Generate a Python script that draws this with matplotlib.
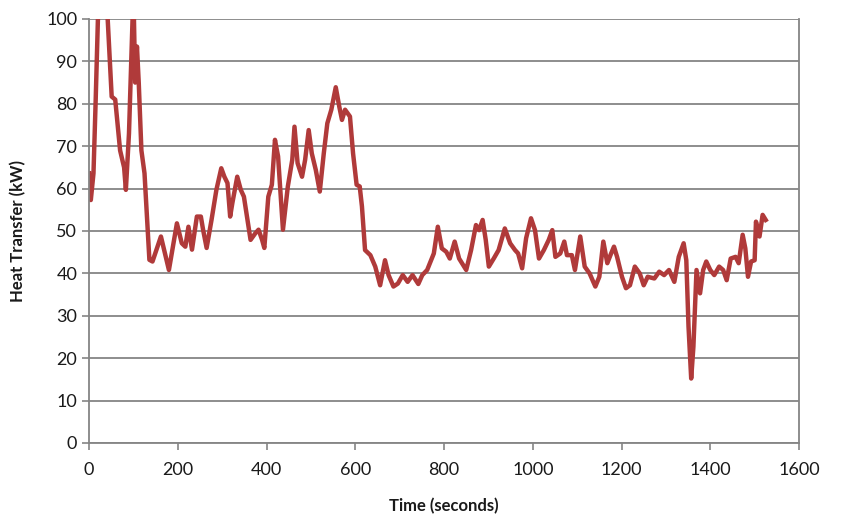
import numpy as np
from matplotlib import pyplot as plt

# heat transfer trace (time in s, power in kW)
time_s = [0, 4, 10, 15, 20, 30, 42, 51, 59, 70, 79, 83, 90, 98, 101, 104, 108, 112,
          118, 125, 136, 143, 152, 162, 171, 180, 189, 198, 209, 217, 224, 232, 243,
          252, 257, 265, 276, 287, 298, 305, 312, 318, 323, 334, 342, 349, 364, 375,
          382, 390, 395, 404, 412, 419, 426, 437, 448, 458, 463, 470, 480, 487, 495,
          502, 511, 520, 529, 537, 546, 556, 564, 570, 577, 588, 595, 603, 610, 615,
          622, 634, 645, 656, 667, 675, 686, 696, 707, 718, 729, 742, 751, 762, 777,
          786, 795, 805, 813, 824, 834, 850, 861, 872, 879, 887, 894, 901, 912, 923,
          937, 949, 960, 967, 976, 985, 996, 1005, 1014, 1025, 1036, 1044, 1051, 1062,
          1071, 1077, 1088, 1095, 1107, 1117, 1128, 1141, 1150, 1159, 1168, 1175, 1183,
          1190, 1201, 1210, 1219, 1230, 1241, 1250, 1259, 1274, 1285, 1296, 1307, 1319,
          1329, 1340, 1346, 1351, 1357, 1362, 1369, 1377, 1384, 1391, 1400, 1409, 1420,
          1429, 1437, 1446, 1457, 1464, 1473, 1479, 1485, 1492, 1500, 1503, 1511, 1518,
          1525]
heat_kw = [63.6, 57.3, 63.6, 81, 100, 112, 100, 81.7, 81, 69, 65, 59.7, 73, 99.8, 101,
           85, 93.5, 85, 69, 63.6, 43.2, 42.8, 45.6, 48.7, 44.8, 40.8, 46.3, 51.8, 47.1,
           46.3, 51, 45.6, 53.4, 53.4, 50.3, 46, 52.6, 59.7, 64.8, 62.8, 61.3, 53.4, 56.6,
           62.8, 59.7, 58.1, 47.9, 49.5, 50.3, 47.9, 46, 58.1, 60.9, 71.5, 67.6, 50.3,
           60.5, 66.8, 74.6, 66, 62.8, 66.8, 73.8, 68.3, 64.4, 59.3, 68.3, 75.4, 78.6,
           83.9, 79.3, 76.2, 78.6, 77, 68.3, 60.9, 60.5, 55.8, 45.5, 44.3, 41.6, 37.2,
           43.1, 39.6, 36.9, 37.6, 39.6, 38, 39.6, 37.5, 39.6, 40.8, 44.7, 51, 45.9, 45.1,
           43.5, 47.5, 43.5, 40.8, 45.5, 51.4, 50.2, 52.6, 47.9, 41.6, 43.5, 45.5, 50.6,
           47.1, 45.5, 44.7, 41.2, 48.3, 53, 50.2, 43.5, 45.5, 47.9, 50.2, 43.9, 44.7,
           47.5, 44.3, 44.3, 40.8, 48.7, 41.6, 40, 36.9, 39.2, 47.5, 42.4, 44.3, 46.3,
           43.9, 39.2, 36.5, 37.2, 41.6, 40, 37.2, 39.2, 38.8, 40.4, 39.6, 40.8, 38,
           43.9, 47.1, 43.1, 27.4, 15.2, 22.7, 40.8, 35.3, 40.8, 42.8, 40.8, 39.6, 41.6,
           40.8, 38.4, 43.5, 43.9, 42.4, 49.1, 45.9, 39.2, 42.8, 43.1, 52.2, 48.7, 53.8,
           52.6]

plt.rcParams['font.family'] = ['Lato', 'DejaVu Sans']

fig = plt.figure(figsize=(8.44, 5.23), dpi=100)
ax = fig.add_axes([0.1055, 0.153, 0.8412, 0.8107])

ax.plot(time_s, heat_kw, color='#B03A3A', linewidth=3.2, solid_joinstyle='round')

ax.set_xlim(0, 1600)
ax.set_ylim(0, 100)
ax.set_xticks(np.arange(0, 1601, 200))
ax.set_yticks(np.arange(0, 101, 10))
ax.yaxis.grid(True, color='#858585', linewidth=1.3)
ax.set_axisbelow(True)

for side in ['left', 'bottom', 'right']:
    ax.spines[side].set_color('#858585')
    ax.spines[side].set_linewidth(1.3)
ax.spines['top'].set_visible(False)
ax.tick_params(axis='both', colors='#858585', labelcolor='#1a1a1a',
               labelsize=13, length=5, width=1.2, direction='out')
ax.tick_params(axis='x', pad=9)

ax.set_xlabel('Time (seconds)', fontsize=12, fontweight='bold', color='#1a1a1a', labelpad=14)
ax.set_ylabel('Heat Transfer (kW)', fontsize=12, fontweight='bold', color='#1a1a1a', labelpad=14)

fig.savefig('out.png', dpi=100)
